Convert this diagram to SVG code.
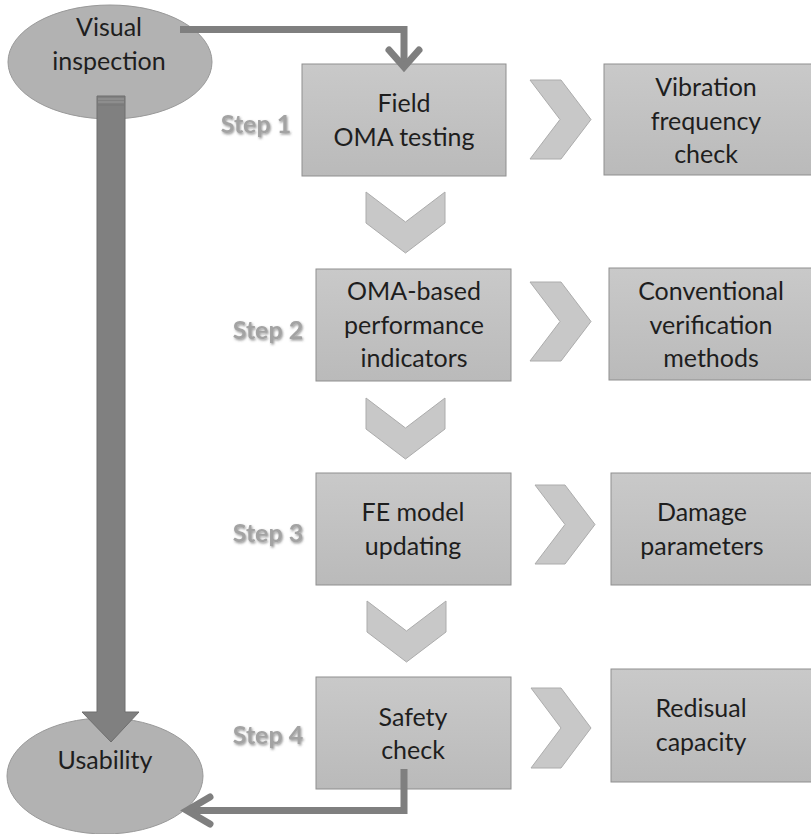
<svg xmlns="http://www.w3.org/2000/svg" width="811" height="834" viewBox="0 0 811 834">
<defs>
  <linearGradient id="gb" x1="0" y1="0" x2="0" y2="1">
    <stop offset="0" stop-color="#c9c9c9"/>
    <stop offset="1" stop-color="#bababa"/>
  </linearGradient>
  <filter id="sh" x="-20%" y="-30%" width="140%" height="160%">
    <feDropShadow dx="1" dy="1.5" stdDeviation="1" flood-color="#555555" flood-opacity="0.6"/>
  </filter>
  <style>
    .box{fill:url(#gb);stroke:#8f8f8f;stroke-width:1}
    .chev{fill:#c8c8c8;stroke:#acacac;stroke-width:1}
    .ell{fill:#b2b2b2;stroke:#999999;stroke-width:1}
    .t{font-family:Lato,"Liberation Sans",sans-serif;font-size:25px;fill:#1e1e1e;text-anchor:middle}
    .step{font-family:Lato,"Liberation Sans",sans-serif;font-weight:bold;font-size:25px;fill:#a3a3a3;text-anchor:middle;filter:url(#sh)}
    .conn{fill:none;stroke:#7f7f7f;stroke-width:7;stroke-linejoin:miter}
    .head{fill:none;stroke:#7f7f7f;stroke-width:7;stroke-linecap:round;stroke-linejoin:miter}
    .big{fill:#808080;stroke:#6e6e6e;stroke-width:1}
  </style>
</defs>

<g id="visual-inspection">
  <ellipse class="ell" cx="110" cy="62" rx="102" ry="57"/>
  <text class="t" x="109" y="36">Visual</text>
  <text class="t" x="109" y="70">inspection</text>
</g>

<g id="usability">
  <ellipse class="ell" cx="105" cy="776" rx="98" ry="58"/>
  <text class="t" x="105" y="769">Usability</text>
</g>

<g id="step1">
  <text class="step" x="256" y="133">Step 1</text>
  <rect class="box" x="302" y="64" width="204" height="112"/>
  <text class="t" x="404" y="112">Field</text>
  <text class="t" x="404" y="146">OMA testing</text>
</g>
<g id="vibration">
  <rect class="box" x="604" y="64" width="212" height="111"/>
  <text class="t" x="706" y="96">Vibration</text>
  <text class="t" x="706" y="130">frequency</text>
  <text class="t" x="706" y="163">check</text>
</g>

<g id="step2">
  <text class="step" x="268" y="339">Step 2</text>
  <rect class="box" x="316" y="269" width="195" height="112"/>
  <text class="t" x="414" y="300">OMA-based</text>
  <text class="t" x="414" y="334">performance</text>
  <text class="t" x="414" y="367">indicators</text>
</g>
<g id="conventional">
  <rect class="box" x="609" y="268" width="207" height="112"/>
  <text class="t" x="711" y="300">Conventional</text>
  <text class="t" x="711" y="334">verification</text>
  <text class="t" x="711" y="367">methods</text>
</g>

<g id="step3">
  <text class="step" x="268" y="542">Step 3</text>
  <rect class="box" x="316" y="473" width="195" height="112"/>
  <text class="t" x="413" y="521">FE model</text>
  <text class="t" x="413" y="555">updating</text>
</g>
<g id="damage">
  <rect class="box" x="611" y="473" width="205" height="112"/>
  <text class="t" x="702" y="521">Damage</text>
  <text class="t" x="702" y="555">parameters</text>
</g>

<g id="step4">
  <text class="step" x="268" y="744">Step 4</text>
  <rect class="box" x="316" y="677" width="195" height="112"/>
  <text class="t" x="413" y="726">Safety</text>
  <text class="t" x="413" y="759">check</text>
</g>
<g id="residual">
  <rect class="box" x="611" y="669" width="205" height="113"/>
  <text class="t" x="701" y="717">Redisual</text>
  <text class="t" x="701" y="751">capacity</text>
</g>

<g id="connectors">
  <!-- right chevrons -->
  <polygon class="chev" points="530,80 561,80 591,119.5 561,159 530,159 560,119.5"/>
  <polygon class="chev" points="530,282 561,282 591,321.5 561,361 530,361 560,321.5"/>
  <polygon class="chev" points="535,485 565,485 595,524.5 565,564 535,564 565,524.5"/>
  <polygon class="chev" points="531,688 561,688 591,728 561,768 531,768 561,728"/>
  <!-- down chevrons -->
  <polygon class="chev" points="366,192 405.5,222 445,192 445,223 405.5,253 366,223"/>
  <polygon class="chev" points="366,398 405.5,428 445,398 445,429 405.5,459 366,429"/>
  <polygon class="chev" points="367,601 406.5,631 446,601 446,632 406.5,662 367,632"/>
  <!-- big arrow -->
  <polygon class="big" points="97,96 125,96 125,712 139,712 111,742 82,712 97,712"/>
  <line x1="98" y1="99" x2="124" y2="99" stroke="#9a9a9a" stroke-width="1"/>
  <line x1="98" y1="102" x2="124" y2="102" stroke="#9a9a9a" stroke-width="1"/>
  <line x1="98" y1="105" x2="124" y2="105" stroke="#777777" stroke-width="1"/>
  <!-- top connector -->
  <path class="conn" d="M180,29.5 H404 V66"/>
  <polyline class="head" points="389,50 404,67 419,50"/>
  <!-- bottom connector -->
  <path class="conn" d="M404,769 V810.5 H188"/>
  <polyline class="head" points="210,797 187,810.5 210,824"/>
</g>
</svg>
